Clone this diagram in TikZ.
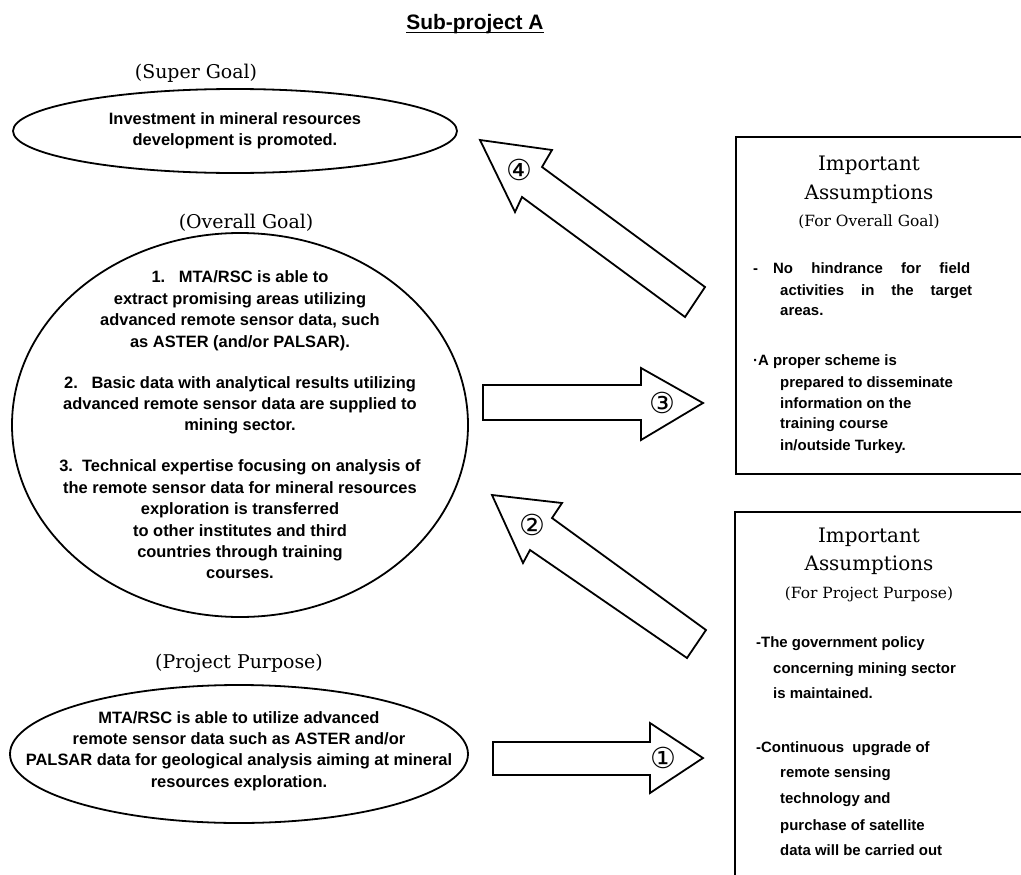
\documentclass[tikz,border=0pt]{standalone}
\usepackage{fontspec}
\usetikzlibrary{shapes.geometric}
\newfontfamily\gothic{Liberation Sans}
\newfontfamily\symfont{DejaVu Sans}
\newfontfamily\labelserif{DejaVu Serif}
\begin{document}
\begin{tikzpicture}[x=1bp,y=-1bp,
  goal/.style={ellipse, draw, line width=1.8bp, inner sep=0pt},
  gtext/.style={font=\gothic\bfseries\fontsize{16.5}{21.5}\selectfont, align=center, inner sep=0pt},
  lbl/.style={font=\labelserif\fontsize{19}{24}\selectfont, inner sep=0pt, anchor=base},
  hd/.style={font=\labelserif\fontsize{20}{26}\selectfont, inner sep=0pt, anchor=base},
  subhd/.style={font=\labelserif\fontsize{15.5}{20}\selectfont, inner sep=0pt, anchor=base},
  bt/.style={font=\gothic\bfseries\fontsize{15}{18}\selectfont, inner sep=0pt, anchor=base west},
  asmbox/.style={draw, line width=2bp, anchor=north west, inner sep=0pt},
  blk/.style={draw, line width=1.8bp, line join=miter, fill=white},
  num/.style={font=\symfont\fontsize{29}{30}\selectfont, inner sep=0pt}
]
\useasboundingbox (0,0) rectangle (1021,875);
\clip (0,0) rectangle (1021,875);

% title
\node[font=\gothic\bfseries\fontsize{21}{24}\selectfont, inner sep=0pt, anchor=base] (title) at (475,29) {Sub-project A};
\draw[line width=1.5bp] ([yshift=-3.5bp]title.base west) -- ([yshift=-3.5bp]title.base east);

% super goal
\node[lbl] (superlbl) at (196,78) {(Super Goal)};
\node[goal, minimum width=444bp, minimum height=84bp] (super) at (235,131) {};
\node[gtext] (supertxt) at (super.center) {Investment in mineral resources\\development is promoted.};

% overall goal
\node[lbl] (overlbl) at (246,228) {(Overall Goal)};
\node[goal, minimum width=456bp, minimum height=384bp] (overall) at (240,425) {};
\node[gtext] (overalltxt) at (overall.center) {%
1.\ \ \ MTA/RSC is able to\\
extract promising areas utilizing\\
advanced remote sensor data, such\\
as ASTER (and/or PALSAR).\\[19.5bp]
2.\ \ \ Basic data with analytical results utilizing\\
advanced remote sensor data are supplied to\\
mining sector.\\[19.5bp]
3.\ \ Technical expertise focusing on analysis of\\
the remote sensor data for mineral resources\\
exploration is transferred\\
to other institutes and third\\
countries through training\\
courses.};

% project purpose
\node[lbl] (purplbl) at (239,668) {(Project Purpose)};
\node[goal, minimum width=458bp, minimum height=138bp] (purpose) at (239,754) {};
\node[gtext] (purptxt) at (239,751) {MTA/RSC is able to utilize advanced\\
remote sensor data such as ASTER and/or\\
PALSAR data for geological analysis aiming at mineral\\
resources exploration.};

% block arrows
\draw[blk] (480,140) -- (552,150) -- (542,167) -- (705,287) -- (685,317) -- (522,197) -- (515,212) -- cycle;
\node[num] (n4) at (519,170) {④};
\draw[blk] (483,385) -- (641,385) -- (641,368) -- (703,403) -- (641,440) -- (641,420) -- (483,420) -- cycle;
\node[num] (n3) at (662,403) {③};
\draw[blk] (492,495) -- (562,503) -- (552,518) -- (706,630) -- (687,658) -- (530,550) -- (523,563) -- cycle;
\node[num] (n2) at (532,525) {②};
\draw[blk] (493,742) -- (650,742) -- (650,723) -- (703,758) -- (650,793) -- (650,775) -- (493,775) -- cycle;
\node[num] (n1) at (663,758) {①};

% assumptions for the overall goal
\node[asmbox, minimum width=300bp, minimum height=337bp] (asm1) at (735,136) {};
\node[hd] (imp1) at (869,170) {Important};
\node[hd] (ass1) at (869,199) {Assumptions};
\node[subhd] (for1) at (869,226) {(For Overall Goal)};
\node[bt] (a1) at (753,273) {-};
\node[bt] (a2) at (773,273) {\makebox[197bp]{No\hfill hindrance\hfill for\hfill field}};
\node[bt] (a3) at (780,295) {\makebox[192bp]{activities\hfill in\hfill the\hfill target}};
\node[bt] (a4) at (780,315) {areas.};
\node[bt] (a5) at (753,365) {·A proper scheme is};
\node[bt] (a6) at (780,387) {prepared to disseminate};
\node[bt] (a7) at (780,408) {information on the};
\node[bt] (a8) at (780,428) {training course};
\node[bt] (a9) at (780,450) {in/outside Turkey.};

% assumptions for the project purpose
\node[asmbox, minimum width=300bp, minimum height=380bp] (asm2) at (734,511) {};
\node[hd] (imp2) at (869,542) {Important};
\node[hd] (ass2) at (869,570) {Assumptions};
\node[subhd] (for2) at (869,598) {(For Project Purpose)};
\node[bt] (p1) at (756,647) {-The government policy};
\node[bt] (p2) at (773,673) {concerning mining sector};
\node[bt] (p3) at (773,698) {is maintained.};
\node[bt] (p4) at (756,752) {-Continuous\ \ upgrade of};
\node[bt] (p5) at (780,777) {remote sensing};
\node[bt] (p6) at (780,803) {technology and};
\node[bt] (p7) at (780,830) {purchase of satellite};
\node[bt] (p8) at (780,855) {data will be carried out};
\end{tikzpicture}
\end{document}
